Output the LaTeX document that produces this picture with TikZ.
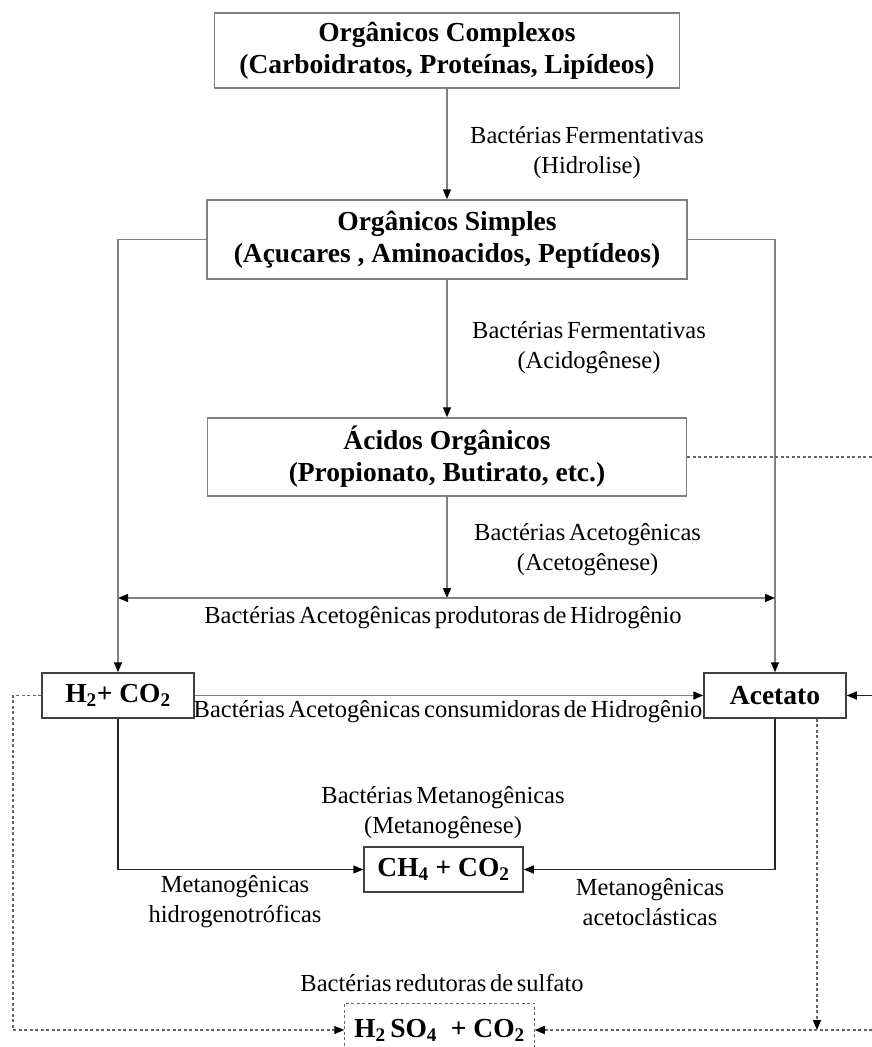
\documentclass[tikz,border=0pt]{standalone}
\usepackage{fontspec}
\setmainfont{Liberation Serif}
\newfontfamily\lblfont{Liberation Serif}[WordSpace=0.6]
\usetikzlibrary{arrows.meta, positioning}

\tikzset{
  box/.style={draw=black!50, line width=1.5pt, fill=white, align=center, inner sep=0pt,
    font=\bfseries\fontsize{27.5}{32}\selectfont},
  smallbox/.style={box, draw=black!75},
  lbl/.style={align=center, inner sep=0pt, font=\lblfont\fontsize{24.5}{30}\selectfont},
  tip/.style={-{Triangle[length=10pt,width=8pt,color=black]}},
  flow/.style={draw=black!50, line width=1.5pt, tip},
  darkflow/.style={flow, draw=black!85},
  dotflow/.style={draw=black!60, line width=1.4pt, dash pattern=on 3pt off 2.5pt}
}

\begin{document}
\begin{tikzpicture}[x=1pt, y=-1pt]
  \clip (0,0) rectangle (872,1047);
  % boxes
  \node[box, minimum width=465, minimum height=75] (complexos) at (447,50.5)
    {Orgânicos Complexos\\(Carboidratos, Proteínas, Lipídeos)};
  \node[box, minimum width=480, minimum height=79] (simples) at (447,239.5)
    {Orgânicos Simples\\(Açucares , Aminoacidos, Peptídeos)};
  \node[box, minimum width=479, minimum height=78] (acidos) at (447,457)
    {Ácidos Orgânicos\\(Propionato, Butirato, etc.)};
  \node[smallbox, minimum width=152, minimum height=45] (hco) at (118,695.5)
    {H\textsubscript{2}+ CO\textsubscript{2}};
  \node[smallbox, minimum width=142, minimum height=45] (acetato) at (775,695.5) {Acetato};
  \node[smallbox, minimum width=159, minimum height=45] (metano) at (443.5,869.5)
    {CH\textsubscript{4} + CO\textsubscript{2}};
  \node[box, draw=none, minimum width=189, minimum height=52] (sulfato) at (439.5,1030)
    {H\textsubscript{2}\,SO\textsubscript{4}\enspace+ CO\textsubscript{2}};
  \draw[dotflow] (sulfato.south west) -- (sulfato.north west) -- (sulfato.north east) -- (sulfato.south east);

  % helper points
  \coordinate (split) at (447,598);
  \coordinate (edgeA) at (872,457);
  \coordinate (edgeB) at (872,695.5);
  \coordinate (edgeC) at (872,1030);
  \coordinate (drop) at (817,1030);
  \coordinate (leftcorner) at (13,695.5);

  % main chain
  \draw[flow] (complexos) -- (simples);
  \draw[flow] (simples) -- (acidos);
  \draw[flow] (acidos) -- (split);
  \draw[flow] (simples.west) -| (hco.north);
  \draw[flow] (simples.east) -| (acetato.north);
  \draw[draw=black!50, line width=1.5pt, {Triangle[length=10pt,width=8pt,color=black]}-{Triangle[length=10pt,width=8pt,color=black]}]
    (split -| hco.north) -- (split -| acetato.north);
  \draw[flow] (hco.east) -- (acetato.west);
  \draw[darkflow] (edgeB) -- (acetato.east);
  \draw[darkflow] (hco.south) |- (metano.west);
  \draw[darkflow] (acetato.south) |- (metano.east);

  % sulfate branch
  \draw[dotflow] (acidos.east) -- (edgeA);
  \draw[dotflow, tip] (hco.west) -- (leftcorner) |- (sulfato.west);
  \draw[dotflow, tip] (drop |- acetato.south) -- (drop);
  \draw[dotflow, tip] (edgeC) -- (sulfato.east);

  % labels
  \node[lbl, anchor=west] (hidrolise) at (470,153) {Bactérias Fermentativas\\(Hidrolise)};
  \node[lbl, anchor=west] (acidogenese) at (472,348) {Bactérias Fermentativas\\(Acidogênese)};
  \node[lbl, anchor=west] (acetogenese) at (474,550) {Bactérias Acetogênicas\\(Acetogênese)};
  \node[lbl] (produtoras) at (443,618) {Bactérias Acetogênicas produtoras de Hidrogênio};
  \node[lbl] (consumidoras) at (448,712) {Bactérias Acetogênicas consumidoras de Hidrogênio};
  \node[lbl] (metanogenese) at (443,813) {Bactérias Metanogênicas\\(Metanogênese)};
  \node[lbl] (hidrogeno) at (235,902) {Metanogênicas\\hidrogenotróficas};
  \node[lbl] (acetoclast) at (650,902) {Metanogênicas\\acetoclásticas};
  \node[lbl] (redutoras) at (442,983) {Bactérias redutoras de sulfato};
\end{tikzpicture}
\end{document}
